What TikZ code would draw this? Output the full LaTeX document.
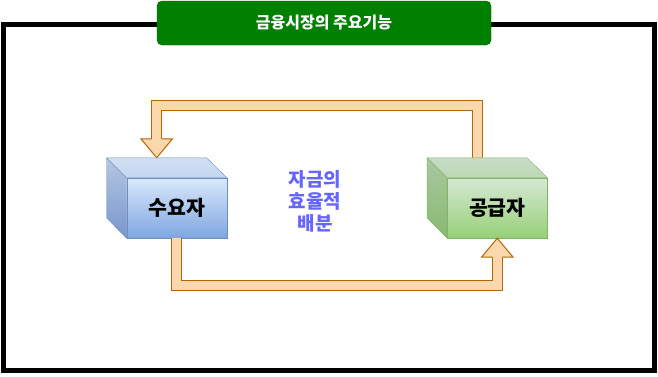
\documentclass[tikz,border=0pt]{standalone}
\usepackage{fontspec}
\setmainfont{Noto Sans CJK KR}
\usetikzlibrary{calc}

\definecolor{titlegreen}{HTML}{008000}
\definecolor{titleline}{HTML}{005700}
\definecolor{blueline}{HTML}{6C8EBF}
\definecolor{greenline}{HTML}{82B366}
\definecolor{flowfill}{HTML}{FAD7AC}
\definecolor{flowline}{HTML}{B46504}
\definecolor{midtext}{HTML}{6666FF}

\begin{document}
\begin{tikzpicture}[x=1pt, y=-1pt,
  title/.style={rectangle, rounded corners=5pt, fill=titlegreen, draw=titleline,
    text=white, font=\fontsize{16}{18}\selectfont\bfseries,
    minimum width=334pt, minimum height=44pt},
  face/.style={rectangle, minimum width=100pt, minimum height=60pt,
    font=\fontsize{20.5}{22}\selectfont\bfseries},
  flow/.style={draw=flowline, line width=1pt, double=flowfill, double distance=9pt},
  note/.style={text=midtext, align=center, font=\fontsize{19}{22}\selectfont\bfseries}
]
  \useasboundingbox (0,0) rectangle (658,376);

  %% ── Frame and title ──────────────────────────────────────────────
  \draw[line width=5pt] (3.5,24.5) rectangle (654.5,370.5);
  \node[title] (ttl) at (324,23) {금융시장의 주요기능};

  %% ── Boxes (front faces) ──────────────────────────────────────────
  \node[face, draw=blueline, top color={rgb,255:red,218;green,232;blue,252},
        bottom color={rgb,255:red,126;green,166;blue,224}] (dem) at (176.7,208) {};
  \node[face, draw=greenline, top color={rgb,255:red,213;green,232;blue,212},
        bottom color={rgb,255:red,151;green,208;blue,119}] (sup) at (497.3,208) {};

  %% ── Flows ───────────────────────────────────────────────────────
  \coordinate (t1) at ($(sup.north)+(-20,-20)$);
  \coordinate (t2) at ($(dem.north)+(-20,-20)$);
  \coordinate (b1) at (dem.south);
  \coordinate (b2) at (sup.south);

  % supplier -> demander (over the top)
  \draw[flow] (t1) -- ++(0,-52.7) -| ($(t2)+(0,-19)$);
  \fill[flowfill] ($(t2)+(-15.8,-19)$) -- (t2) -- ($(t2)+(15.8,-19)$) -- cycle;
  \draw[flowline, line width=1pt] ($(t2)+(-5,-19)$) -- ($(t2)+(-15.8,-19)$) -- (t2)
    -- ($(t2)+(15.8,-19)$) -- ($(t2)+(5,-19)$);

  % demander -> supplier (underneath)
  \draw[flow] (b1) -- ++(0,47) -| ($(b2)+(0,19)$);
  \fill[flowfill] ($(b2)+(-15.8,19)$) -- (b2) -- ($(b2)+(15.8,19)$) -- cycle;
  \draw[flowline, line width=1pt] ($(b2)+(-5,19)$) -- ($(b2)+(-15.8,19)$) -- (b2)
    -- ($(b2)+(15.8,19)$) -- ($(b2)+(5,19)$);

  %% ── Cube tops and sides ─────────────────────────────────────────
  \draw[blueline, top color={rgb,255:red,210;green,224;blue,242}, bottom color={rgb,255:red,196;green,214;blue,240}]
    (dem.north west) -- ++(-20,-20) -- ++(100,0) -- (dem.north east) -- cycle;
  \draw[blueline, top color={rgb,255:red,182;green,199;blue,224}, bottom color={rgb,255:red,120;green,150;blue,204}]
    (dem.north west) -- ++(-20,-20) -- ++(0,60) -- (dem.south west) -- cycle;
  \draw[greenline, top color={rgb,255:red,200;green,220;blue,198}, bottom color={rgb,255:red,188;green,216;blue,180}]
    (sup.north west) -- ++(-20,-20) -- ++(100,0) -- (sup.north east) -- cycle;
  \draw[greenline, top color={rgb,255:red,170;green,199;blue,162}, bottom color={rgb,255:red,136;green,186;blue,112}]
    (sup.north west) -- ++(-20,-20) -- ++(0,60) -- (sup.south west) -- cycle;

  %% ── Labels ──────────────────────────────────────────────────────
  \node[face] (demlbl) at (dem.center) {수요자};
  \node[face] (suplbl) at (sup.center) {공급자};
  \node[note] (mid) at (315,201.7) {자금의\\효율적\\배분};
\end{tikzpicture}
\end{document}
